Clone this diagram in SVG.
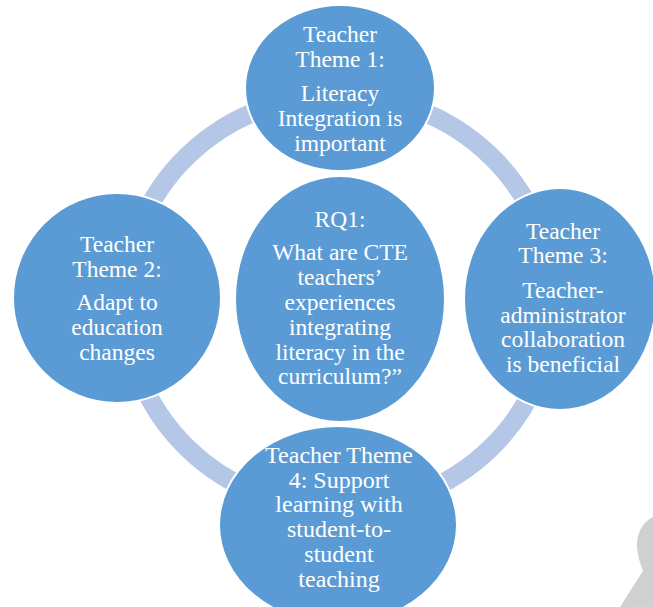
<svg xmlns="http://www.w3.org/2000/svg" width="653" height="607" viewBox="0 0 653 607">
<style>
.node{fill:#5b9bd5;stroke:#ffffff;stroke-width:2}
.ring{fill:none;stroke:#b4c7e7;stroke-width:19}
text{font-family:"Liberation Serif","Times New Roman",serif;font-size:23.5px;fill:#ffffff;text-anchor:middle}
</style>
<rect width="653" height="607" fill="#ffffff"/>
<path d="M653,517 C642,522 636,535 637,548 C638,558 641,565 643,571 L620,607 L653,607 Z" fill="#d0d0d0"/>
<g id="connectors">
<ellipse class="ring" cx="339" cy="302" rx="214" ry="207"/>
</g>
<g id="theme1">
<ellipse class="node" cx="340" cy="88" rx="95" ry="83"/>
<text x="340" y="42">Teacher</text>
<text x="340" y="67">Theme 1:</text>
<text x="340" y="101">Literacy</text>
<text x="340" y="126">Integration is</text>
<text x="340" y="151">important</text>
</g>
<g id="theme2">
<ellipse class="node" cx="117" cy="298" rx="104" ry="105"/>
<text x="117" y="252">Teacher</text>
<text x="117" y="277">Theme 2:</text>
<text x="117" y="310">Adapt to</text>
<text x="117" y="335">education</text>
<text x="117" y="360">changes</text>
</g>
<g id="theme3">
<ellipse class="node" cx="560" cy="299" rx="96" ry="111"/>
<text x="563" y="239">Teacher</text>
<text x="563" y="263">Theme 3:</text>
<text x="563" y="298">Teacher-</text>
<text x="563" y="323">administrator</text>
<text x="563" y="347">collaboration</text>
<text x="563" y="372">is beneficial</text>
</g>
<g id="rq1">
<ellipse class="node" cx="340" cy="299" rx="105" ry="123"/>
<text x="340" y="227">RQ1:</text>
<text x="340" y="260">What are CTE</text>
<text x="340" y="285">teachers’</text>
<text x="340" y="310">experiences</text>
<text x="340" y="335">integrating</text>
<text x="340" y="360">literacy in the</text>
<text x="340" y="384">curriculum?”</text>
</g>
<g id="theme4">
<ellipse class="node" cx="338" cy="525" rx="119" ry="99"/>
<text x="339" y="463" style="font-size:24px">Teacher Theme</text>
<text x="339" y="488" style="font-size:24px">4: Support</text>
<text x="339" y="512" style="font-size:24px">learning with</text>
<text x="339" y="537" style="font-size:24px">student-to-</text>
<text x="339" y="562" style="font-size:24px">student</text>
<text x="339" y="587" style="font-size:24px">teaching</text>
</g>
</svg>
